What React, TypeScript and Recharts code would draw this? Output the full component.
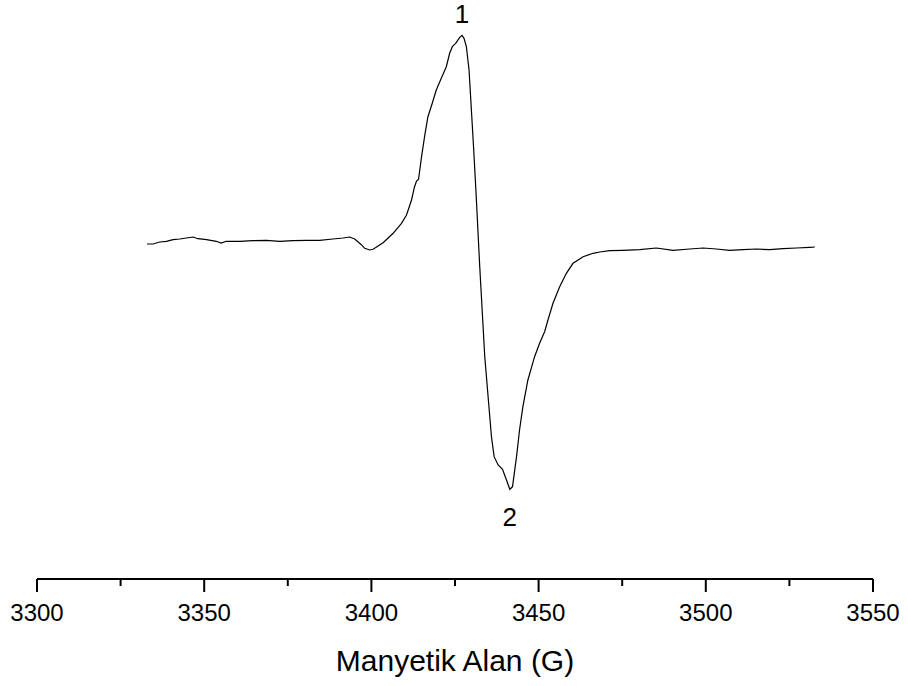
import React from 'react';
import { LineChart, Line, XAxis, YAxis, ReferenceDot } from 'recharts';

// Magnetic field positions (G) of the recorded spectrum
const fieldG: number[] = [
  3332.9, 3334.7, 3336.7, 3338.7, 3340.7, 3342.7, 3344.7, 3346.7, 3348.1, 3350.7,
  3353.6, 3355.1, 3356.6, 3360.6, 3364.6, 3368.6, 3372.6, 3376.6, 3380.6, 3384.5,
  3388.5, 3391.5, 3393.5, 3395.0, 3397.0, 3398.0, 3399.5, 3400.5, 3403.5, 3406.5,
  3409.0, 3410.5, 3412.0, 3412.9, 3413.5, 3414.1, 3415.0, 3415.9, 3416.9, 3418.2,
  3419.4, 3420.9, 3422.4, 3423.4, 3424.2, 3425.2, 3426.4, 3427.1, 3427.7, 3428.4,
  3429.2, 3429.9, 3430.6, 3431.4, 3432.4, 3432.9, 3433.9, 3434.9, 3435.9, 3436.7,
  3437.9, 3439.2, 3440.2, 3441.4, 3442.2, 3443.4, 3444.3, 3445.3, 3446.8, 3448.8,
  3450.3, 3451.8, 3452.8, 3454.3, 3456.3, 3458.3, 3460.3, 3463.3, 3466.3, 3468.3,
  3471.3, 3475.2, 3480.2, 3485.2, 3490.2, 3495.2, 3499.2, 3503.2, 3507.1, 3511.1,
  3515.1, 3519.1, 3523.1, 3527.1, 3531.1, 3532.6,
];

// First-derivative EPR signal (arbitrary units)
const signal: number[] = [
  -3, -3, -1, -0.3, 1.3, 2, 3, 4, 2.3, 1.3,
  -0.3, -2, -0.3, -0.3, 0.3, 0.7, -0.3, 0.3, 0.7, 0.7,
  2, 3, 4, 2, -3.7, -7.3, -9, -8.3, -1.7, 7.7,
  17.7, 26, 41, 54.3, 60, 61.7, 84.3, 104.3, 124.3, 137.7,
  151, 162.7, 174.3, 187.7, 194.3, 197.7, 203.7, 205.7, 202.7, 194.3,
  171, 131, 91, 41, -25.7, -55.7, -115.7, -155.7, -195.7, -215.7,
  -224, -228.3, -237.3, -248.3, -245.7, -215.7, -189, -165.7, -139, -115.7,
  -102.3, -90.7, -79, -62.3, -45.7, -32.3, -22.3, -15.7, -12.3, -11,
  -9.7, -9.3, -8.7, -7, -9.3, -8, -7, -8, -9.3, -8.7,
  -8, -8.7, -7.7, -7, -6.3, -6,
];

// Axis ticks every 25 G, labelled every 50 G
const axisTicks: number[] = [3300, 3325, 3350, 3375, 3400, 3425, 3450, 3475, 3500, 3525, 3550];
const labelledTicks: number[] = [3300, 3350, 3400, 3450, 3500, 3550];

const peakLabels: string[] = ['1', '2'];

const data = fieldG.map((g, i) => ({ g, v: signal[i] }));

const maxPoint = data.reduce((a, b) => (b.v > a.v ? b : a));
const minPoint = data.reduce((a, b) => (b.v < a.v ? b : a));

const FONT = '"Liberation Sans", Arial, Helvetica, sans-serif';

const FieldTick = (props: any) => {
  const { x, y, payload } = props;
  const major = labelledTicks.includes(payload.value);
  return (
    <g>
      <line x1={x} y1={y} x2={x} y2={y + (major ? 13 : 7)} stroke="#000" strokeWidth={2} />
      {major && (
        <text x={x} y={y + 42} textAnchor="middle" fontSize={24} fontFamily={FONT} fill="#000">
          {payload.value}
        </text>
      )}
    </g>
  );
};

export default function App() {
  return (
    <div style={{ position: 'absolute', left: 0, top: 0, background: '#fff' }}>
      <LineChart
        width={908}
        height={686}
        data={data}
        margin={{ top: 29, right: 35, bottom: 0, left: 37 }}
      >
        <XAxis
          dataKey="g"
          type="number"
          domain={[3300, 3550]}
          ticks={axisTicks}
          interval={0}
          tickLine={false}
          tickSize={0}
          tickMargin={0}
          tick={<FieldTick />}
          axisLine={{ stroke: '#000', strokeWidth: 2 }}
          height={107}
          label={{
            value: 'Manyetik Alan (G)',
            position: 'insideBottom',
            offset: 15,
            fontSize: 30,
            fontFamily: FONT,
            fill: '#000',
          }}
        />
        <YAxis hide domain={[-338, 212]} type="number" />
        <Line
          type="linear"
          dataKey="v"
          stroke="#000"
          strokeWidth={1.2}
          dot={false}
          isAnimationActive={false}
        />
        <ReferenceDot
          x={maxPoint.g}
          y={maxPoint.v}
          r={0}
          fill="none"
          stroke="none"
          label={{ value: peakLabels[0], position: 'top', offset: 12, fontSize: 26, fontFamily: FONT, fill: '#000' }}
        />
        <ReferenceDot
          x={minPoint.g}
          y={minPoint.v}
          r={0}
          fill="none"
          stroke="none"
          label={{ value: peakLabels[1], position: 'bottom', offset: 18, fontSize: 26, fontFamily: FONT, fill: '#000' }}
        />
      </LineChart>
    </div>
  );
}
